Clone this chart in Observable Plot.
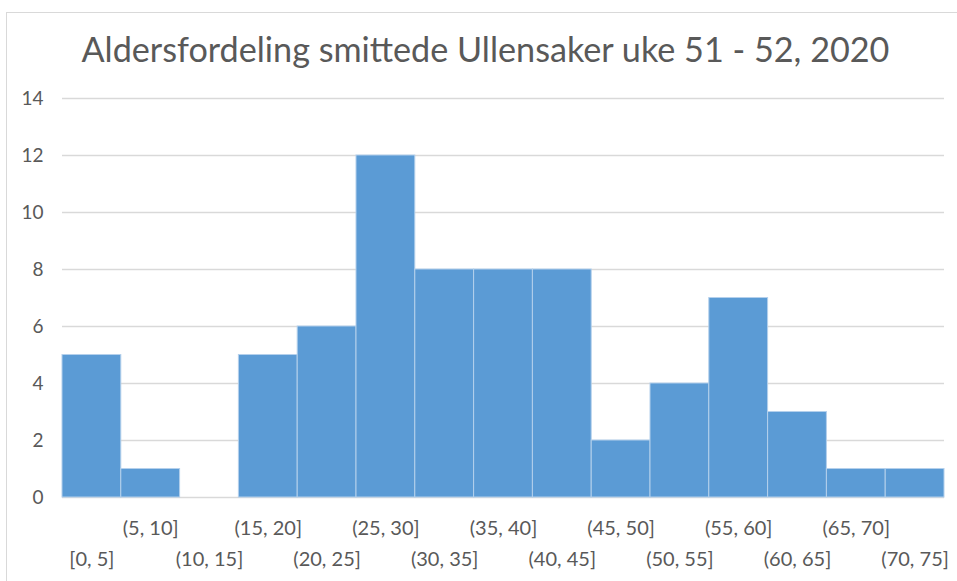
<!DOCTYPE html>
<html>
<head>
<meta charset="utf-8">
<script src="https://cdn.jsdelivr.net/npm/d3@7"></script>
<script src="https://cdn.jsdelivr.net/npm/@observablehq/plot@0.6"></script>
<style>
  html, body { margin: 0; padding: 0; background: #fff; }
  #wrap { position: relative; width: 957px; height: 581px; overflow: hidden; font-family: Lato, "Open Sans", sans-serif; }
  #frame { position: absolute; left: 6px; top: 12px; width: 1000px; height: 1000px; border: 1px solid #d9d9d9; box-sizing: border-box; }
  #title { position: absolute; left: 7px; top: 29px; width: 957px; text-align: center; font-size: 34.2px; font-weight: 400; color: #595959; line-height: 40px; white-space: nowrap; }
  #chart { position: absolute; left: 0; top: 80px; }
</style>
</head>
<body>
<div id="wrap">
  <div id="frame"></div>
  <div id="title">Aldersfordeling smittede Ullensaker uke 51 - 52, 2020</div>
  <div id="chart"></div>
</div>
<script>
const categories = ["[0, 5]", "(5, 10]", "(10, 15]", "(15, 20]", "(20, 25]", "(25, 30]", "(30, 35]", "(35, 40]", "(40, 45]", "(45, 50]", "(50, 55]", "(55, 60]", "(60, 65]", "(65, 70]", "(70, 75]"];
const counts = [5, 1, 0, 5, 6, 12, 8, 8, 8, 2, 4, 7, 3, 1, 1];
const yTicks = [0, 2, 4, 6, 8, 10, 12, 14];

const data = categories.map((c, i) => ({bin: c, count: counts[i]}));
const lowerRow = categories.filter((c, i) => i % 2 === 0);
const upperRow = categories.filter((c, i) => i % 2 === 1);

const chart = Plot.plot({
  width: 957,
  height: 501,
  marginLeft: 62,
  marginRight: 13,
  marginTop: 18,
  marginBottom: 84,
  style: {fontFamily: "Lato, 'Open Sans', sans-serif", fontSize: "20px", color: "#595959", background: "transparent"},
  x: {domain: categories, padding: 0, round: false, axis: null},
  y: {domain: [0, 14], ticks: yTicks, axis: null},
  marks: [
    Plot.gridY(yTicks, {stroke: "#d9d9d9", strokeOpacity: 1, strokeWidth: 1.5}),
    Plot.axisY(yTicks, {tickSize: 0, tickPadding: 19, fontSize: 19, fill: "#595959", label: null}),
    Plot.barY(data, {x: "bin", y: "count", fill: "#5b9bd5", stroke: "#b4d0ec", strokeWidth: 1, inset: 0}),
    Plot.axisX({ticks: upperRow, tickSize: 0, tickPadding: 23, fontSize: 20, fill: "#595959", label: null}),
    Plot.axisX({ticks: lowerRow, tickSize: 0, tickPadding: 54, fontSize: 20, fill: "#595959", label: null})
  ]
});
document.getElementById("chart").appendChild(chart);
</script>
</body>
</html>
